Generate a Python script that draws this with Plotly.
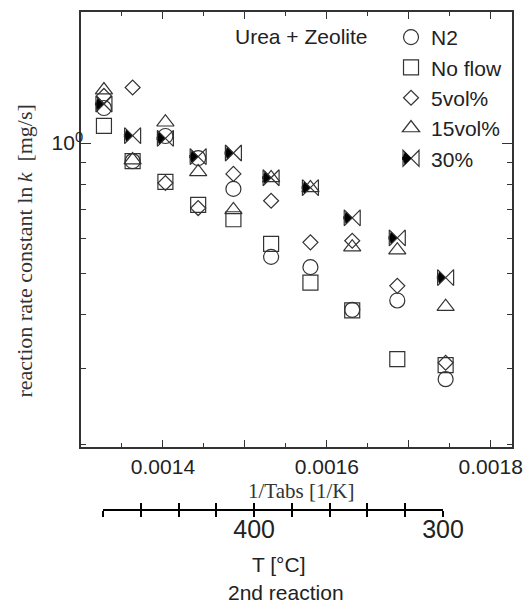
import plotly.graph_objects as go

# ---- data ----
inv_T = [0.001328, 0.001363, 0.001403, 0.001443, 0.001486,
         0.001532, 0.001580, 0.001631, 0.001686, 0.001745]
n2      = [1.205, 0.908, 1.038, 0.923, 0.783, 0.545, 0.516, 0.411, 0.432, 0.284]
no_flow = [1.096, 0.908, 0.813, 0.719, 0.666, 0.584, 0.475, 0.410, 0.316, 0.306]
vol5    = [1.285, 1.344, 0.808, 0.707, 0.848, 0.735, 0.589, 0.594, 0.467, 0.310]
vol15   = [1.326, 0.913, 1.117, 0.857, 0.700, 0.830, 0.787, 0.574, 0.565, 0.418]
pct30   = [1.231, 1.040, 1.025, 0.930, 0.948, 0.831, 0.788, 0.671, 0.603, 0.488]

x_tickvals = [0.0013, 0.0014, 0.0015, 0.0016, 0.0017, 0.0018]
x_ticktext = ["", "0.0014", "", "0.0016", "", "0.0018"]
y_tickvals = [1]
y_ticktext = ["10<sup>0</sup>"]
y_minor = [0.2, 0.3, 0.4, 0.5, 0.6, 0.7, 0.8, 0.9, 2]
T_tickvals = [480, 460, 440, 420, 400, 380, 360, 340, 320, 300]
T_ticktext = ["", "", "", "", "400", "", "", "", "", "300"]

SANS = "Liberation Sans"
SERIF = "Liberation Serif"
MC = "#333333"

fig = go.Figure()

def add(name, y, symbol, size, color=MC, legend="legend", angle=0, lw=1.2):
    fig.add_trace(go.Scatter(
        x=inv_T, y=y, mode="markers", name=name, legend=legend,
        marker=dict(symbol=symbol, size=size, color=color, angle=angle,
                    line=dict(color=color, width=lw)),
    ))

add("N2", n2, "circle-open", 15)
add("No flow", no_flow, "square-open", 15)
add("5vol%", vol5, "diamond-open", 11.5)
add("15vol%", vol15, "triangle-up-open", 15)
# 30 %: bow-tie outline + filled left half (two rotated solid wedges)
add(" ", pct30, "arrow-right", 7.8, color="#000000", legend="legend2", angle=18.4, lw=0.6)
add(" ", pct30, "arrow-right", 7.8, color="#000000", legend="legend3", angle=-18.4, lw=0.6)
add("30%", pct30, "bowtie-open", 16)

# helper traces (invisible) so that the temperature axis is drawn
for xa in ("x2", "x3"):
    fig.add_trace(go.Scatter(
        x=T_tickvals, y=[0.5] * len(T_tickvals), xaxis=xa, yaxis="y2",
        mode="markers", marker=dict(opacity=0, size=1),
        showlegend=False, hoverinfo="skip",
    ))

LEG_X = 0.7193
leg_common = dict(xanchor="left", yanchor="top", bgcolor="rgba(0,0,0,0)",
                  borderwidth=0, font=dict(family=SANS, size=21, color="#222"))

fig.update_layout(
    width=526, height=604,
    margin=dict(l=81, r=14, t=12, b=95, autoexpand=False),
    paper_bgcolor="white", plot_bgcolor="white",
    font=dict(family=SANS, size=21, color="#222222"),
    xaxis=dict(
        range=[0.0013, 0.001826], domain=[0, 1], anchor="y",
        tickmode="array", tickvals=x_tickvals, ticktext=x_ticktext,
        ticks="inside", ticklen=7, tickwidth=1.2, tickcolor="#333",
        minor=dict(dtick=0.00005, tick0=0.0013, ticks="inside", ticklen=4,
                   tickwidth=1.2, tickcolor="#333"),
        showline=True, linewidth=1.5, linecolor="#333", mirror="ticks",
        showgrid=False, zeroline=False,
        tickfont=dict(family=SANS, size=21, color="#222"),
    ),
    yaxis=dict(
        type="log", range=[-0.7037, 0.3032], domain=[0.1247, 1], anchor="x",
        tickmode="array", tickvals=y_tickvals, ticktext=y_ticktext,
        ticks="inside", ticklen=10, tickwidth=1.2, tickcolor="#333",
        minor=dict(tickvals=y_minor, ticks="inside", ticklen=5,
                   tickwidth=1.2, tickcolor="#333"),
        showline=True, linewidth=1.5, linecolor="#333", mirror="ticks",
        showgrid=False, zeroline=False, ticklabelstandoff=-8,
        tickfont=dict(family=SANS, size=21, color="#222"),
    ),
    xaxis2=dict(
        domain=[0.051, 0.840], anchor="y2", range=[480, 300],
        tickmode="array", tickvals=T_tickvals, ticktext=T_ticktext,
        ticks="outside", ticklen=6, tickwidth=2, tickcolor="black",
        showline=True, linewidth=2, linecolor="black",
        showgrid=False, zeroline=False, ticklabelstandoff=-9,
        tickfont=dict(family=SANS, size=25, color="#222"),
    ),
    xaxis3=dict(
        overlaying="x2", anchor="y2", range=[480, 300],
        tickmode="array", tickvals=T_tickvals, ticktext=[""] * len(T_tickvals),
        ticks="inside", ticklen=6, tickwidth=2, tickcolor="black",
        showline=False, showticklabels=False, showgrid=False, zeroline=False,
    ),
    yaxis2=dict(domain=[0, 0.02], anchor="x2", visible=False, range=[0, 1]),
    legend=dict(x=LEG_X, y=0.99, tracegroupgap=0, **leg_common),
    legend2=dict(x=LEG_X, y=0.7461, **leg_common),
    legend3=dict(x=LEG_X, y=0.7461, **leg_common),
    showlegend=True,
)

fig.add_annotation(text="Urea + Zeolite", xref="paper", yref="paper",
                   x=0.5093, y=0.9517, xanchor="center", yanchor="middle",
                   showarrow=False, font=dict(family=SANS, size=21, color="#222"))
fig.add_annotation(text="1/Tabs [1/K]", xref="paper", yref="paper",
                   x=0.51, y=0.0362, xanchor="center", yanchor="middle",
                   showarrow=False, font=dict(family=SERIF, size=21, color="#333"))
fig.add_annotation(text="T [°C]", xref="paper", yref="paper",
                   x=(279 - 81) / 431, y=-0.1117, xanchor="center", yanchor="middle",
                   showarrow=False, font=dict(family=SANS, size=21, color="#222"))
fig.add_annotation(text="2nd reaction", xref="paper", yref="paper",
                   x=(285.5 - 81) / 431, y=-0.169, xanchor="center", yanchor="middle",
                   showarrow=False, font=dict(family=SANS, size=21, color="#222"))
fig.add_annotation(text="reaction rate constant ln\u2009<i>k</i>\u00a0\u00a0[mg/s]",
                   xref="paper", yref="paper", textangle=-90,
                   x=(24 - 81) / 431, y=(509 - 251.5) / 497,
                   xanchor="center", yanchor="middle", showarrow=False,
                   font=dict(family=SERIF, size=22, color="#333"))

fig.write_html("out.html", config={"displayModeBar": False},
               post_script="document.body.style.margin='0px';")
